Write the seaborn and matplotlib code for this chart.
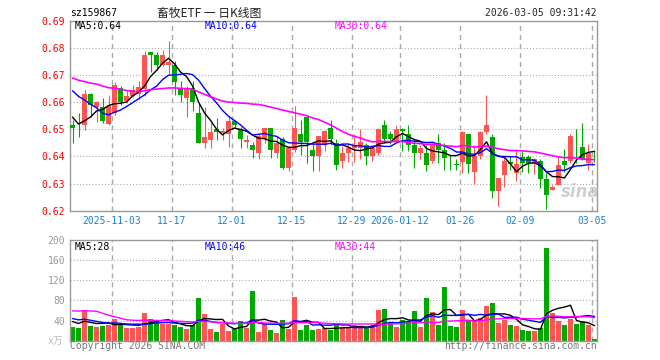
import numpy as np
import pandas as pd
import matplotlib
matplotlib.use("Agg")
import matplotlib.pyplot as plt
import seaborn as sns

# daily bars of sz159867, 2025-10-23 .. 2026-03-05 (88 sessions)
opens = [0.6514, 0.6513, 0.6514, 0.6631, 0.6582, 0.6582, 0.6520, 0.6559, 0.6653, 0.6603,
         0.6621, 0.6630, 0.6650, 0.6785, 0.6775, 0.6736, 0.6736, 0.6736, 0.6652, 0.6615,
         0.6652, 0.6559, 0.6451, 0.6460, 0.6500, 0.6488, 0.6481, 0.6531, 0.6501, 0.6452,
         0.6441, 0.6411, 0.6463, 0.6504, 0.6411, 0.6463, 0.6358, 0.6423, 0.6481, 0.6546,
         0.6422, 0.6401, 0.6442, 0.6504, 0.6451, 0.6383, 0.6411, 0.6432, 0.6432, 0.6441,
         0.6401, 0.6414, 0.6515, 0.6481, 0.6453, 0.6502, 0.6481, 0.6441, 0.6411, 0.6411,
         0.6383, 0.6451, 0.6423, 0.6384, 0.6373, 0.6380, 0.6482, 0.6343, 0.6402, 0.6491,
         0.6473, 0.6273, 0.6332, 0.6378, 0.6340, 0.6399, 0.6399, 0.6374, 0.6383, 0.6317,
         0.6278, 0.6296, 0.6383, 0.6383, 0.6432, 0.6436, 0.6374, 0.6392]
highs = [0.6535, 0.6560, 0.6646, 0.6633, 0.6605, 0.6615, 0.6626, 0.6674, 0.6658, 0.6645,
         0.6662, 0.6678, 0.6788, 0.6786, 0.6785, 0.6791, 0.6827, 0.6751, 0.6677, 0.6658,
         0.6677, 0.6596, 0.6581, 0.6522, 0.6541, 0.6505, 0.6547, 0.6534, 0.6510, 0.6479,
         0.6453, 0.6488, 0.6505, 0.6505, 0.6475, 0.6472, 0.6438, 0.6586, 0.6535, 0.6548,
         0.6444, 0.6477, 0.6496, 0.6533, 0.6463, 0.6438, 0.6444, 0.6481, 0.6502, 0.6451,
         0.6438, 0.6503, 0.6535, 0.6493, 0.6515, 0.6504, 0.6516, 0.6463, 0.6441, 0.6441,
         0.6451, 0.6482, 0.6451, 0.6404, 0.6392, 0.6492, 0.6483, 0.6442, 0.6492, 0.6626,
         0.6482, 0.6321, 0.6396, 0.6402, 0.6423, 0.6420, 0.6407, 0.6395, 0.6389, 0.6340,
         0.6296, 0.6401, 0.6426, 0.6481, 0.6502, 0.6522, 0.6444, 0.6420]
lows = [0.6448, 0.6472, 0.6498, 0.6547, 0.6528, 0.6522, 0.6514, 0.6553, 0.6590, 0.6596,
        0.6618, 0.6612, 0.6623, 0.6710, 0.6717, 0.6732, 0.6705, 0.6627, 0.6599, 0.6547,
        0.6568, 0.6448, 0.6430, 0.6430, 0.6460, 0.6462, 0.6436, 0.6504, 0.6430, 0.6430,
        0.6395, 0.6389, 0.6448, 0.6395, 0.6395, 0.6354, 0.6348, 0.6418, 0.6407, 0.6377,
        0.6348, 0.6348, 0.6420, 0.6444, 0.6349, 0.6356, 0.6379, 0.6379, 0.6389, 0.6368,
        0.6383, 0.6407, 0.6451, 0.6444, 0.6451, 0.6420, 0.6420, 0.6358, 0.6389, 0.6348,
        0.6377, 0.6377, 0.6350, 0.6350, 0.6350, 0.6338, 0.6338, 0.6300, 0.6392, 0.6482,
        0.6248, 0.6218, 0.6289, 0.6350, 0.6310, 0.6342, 0.6340, 0.6337, 0.6284, 0.6206,
        0.6275, 0.6293, 0.6342, 0.6377, 0.6377, 0.6386, 0.6349, 0.6380]
closes = [0.6505, 0.6511, 0.6631, 0.6589, 0.6601, 0.6532, 0.6584, 0.6664, 0.6599, 0.6623,
          0.6643, 0.6655, 0.6775, 0.6775, 0.6736, 0.6775, 0.6747, 0.6673, 0.6625, 0.6652,
          0.6602, 0.6451, 0.6470, 0.6489, 0.6491, 0.6495, 0.6531, 0.6516, 0.6463, 0.6460,
          0.6423, 0.6475, 0.6504, 0.6422, 0.6451, 0.6358, 0.6432, 0.6504, 0.6453, 0.6453,
          0.6401, 0.6475, 0.6494, 0.6463, 0.6370, 0.6411, 0.6432, 0.6441, 0.6453, 0.6401,
          0.6432, 0.6502, 0.6463, 0.6463, 0.6502, 0.6493, 0.6441, 0.6411, 0.6432, 0.6370,
          0.6447, 0.6423, 0.6393, 0.6382, 0.6370, 0.6491, 0.6371, 0.6402, 0.6491, 0.6515,
          0.6273, 0.6320, 0.6383, 0.6371, 0.6371, 0.6374, 0.6374, 0.6391, 0.6317, 0.6259,
          0.6288, 0.6370, 0.6370, 0.6475, 0.6430, 0.6389, 0.6411, 0.6389]
volumes = [28, 26, 61, 29, 27, 29, 31, 43, 32, 25,
           25, 28, 55, 44, 41, 34, 34, 31, 27, 23,
           32, 85, 53, 23, 17, 34, 19, 24, 39, 25,
           99, 17, 33, 21, 15, 41, 23, 87, 21, 31,
           21, 23, 25, 21, 34, 25, 25, 32, 25, 28,
           32, 61, 63, 36, 27, 41, 39, 59, 27, 85,
           57, 31, 107, 29, 27, 61, 39, 41, 45, 69,
           75, 36, 41, 31, 29, 21, 19, 19, 25, 184,
           55, 39, 31, 43, 33, 39, 31, 3]

# sessions before the window, only used to seed the moving averages
prior_closes = [0.676, 0.678, 0.675, 0.672, 0.674, 0.677, 0.673, 0.671, 0.675, 0.674,
                0.670, 0.667, 0.665, 0.668, 0.671, 0.669, 0.666, 0.668, 0.667, 0.669,
                0.672, 0.676, 0.675, 0.673, 0.6735, 0.664, 0.657, 0.652, 0.649]
prior_volumes = [40, 38, 45, 42, 150, 140, 142, 120, 117, 48,
                 44, 42, 46, 50, 47, 45, 44, 43, 48, 46,
                 52, 48, 50, 49, 51, 45, 38, 41, 38]

tick_days = [7, 17, 27, 37, 47, 55, 65, 75, 87]
tick_labels = ["2025-11-03", "11-17", "12-01", "12-15", "12-29",
               "2026-01-12", "01-26", "02-09", "03-05"]
price_ticks = [0.62, 0.63, 0.64, 0.65, 0.66, 0.67, 0.68, 0.69]
vol_ticks = [40, 80, 120, 160, 200]
price_ma_text = ["MA5:0.64", "MA10:0.64", "MA30:0.64"]
vol_ma_text = ["MA5:28", "MA10:46", "MA30:44"]

RED, GREEN = "#ff5454", "#00a800"
MA_COLORS = ["#000000", "#0000ff", "#ff00ff"]
GRID = "#aaaaaa"

sns.set_style("white")
plt.rcParams["font.family"] = ["DejaVu Sans Mono", "Noto Sans CJK SC"]

n = len(closes)
day = np.arange(n)
o, h, l, c = map(np.array, (opens, highs, lows, closes))
cols = np.where(c > o, RED, GREEN)
close_all = pd.Series(prior_closes + closes)
vol_all = pd.Series(prior_volumes + volumes, dtype=float)

W, H = 660, 360
fig = plt.figure(figsize=(6.6, 3.6), dpi=100)
ax1 = fig.add_axes([70 / W, 1 - 210.7 / H, 527 / W, 190 / H])
ax2 = fig.add_axes([70 / W, 1 - 340.7 / H, 527 / W, 100.7 / H])

for ax in (ax1, ax2):
    ax.set_xlim(-0.42, 87.42)
    for t in tick_days:
        ax.axvline(t - 0.42, color=GRID, lw=1, ls=(0, (3.6, 2.9)), zorder=0)
    for s in ax.spines.values():
        s.set_color("#999999")
        s.set_linewidth(1)
    ax.tick_params(length=0)

# price panel
for y in price_ticks[1:-1]:
    ax1.axhline(y, color=GRID, lw=0.75, ls=(0, (1, 2)), zorder=0)
ax1.vlines(day, l, h, colors=cols, lw=0.8, zorder=2)
ax1.bar(day, np.maximum(np.abs(c - o), 0.00015), bottom=np.minimum(o, c),
        width=0.83, color=cols, lw=0, zorder=3)
for w, col in zip((5, 10, 30), MA_COLORS):
    ma = close_all.rolling(w).mean().iloc[-n:].to_numpy()
    sns.lineplot(x=day, y=ma, ax=ax1, color=col, lw=1.0 if w < 30 else 1.2,
                 estimator=None, zorder=4)
ax1.set_ylim(0.62, 0.69)
ax1.set_yticks(price_ticks)
ax1.set_yticklabels([f"{v:.2f}" for v in price_ticks])
ax1.tick_params(axis="y", pad=3.6, labelcolor="#ff0000", labelsize=7)
ax1.set_xticks(np.array(tick_days) - 0.42)
ax1.set_xticklabels(tick_labels)
ax1.tick_params(axis="x", pad=3.5, labelcolor="#1a80d0", labelsize=7)
ax1.set_xlabel("")
ax1.set_ylabel("")

# volume panel
for y in vol_ticks[:-1]:
    ax2.axhline(y, color=GRID, lw=0.75, ls=(0, (1, 2)), zorder=0)
ax2.bar(day, volumes, width=0.83, color=cols, lw=0, zorder=2)
for w, col in zip((5, 10, 30), MA_COLORS):
    ma = vol_all.rolling(w).mean().iloc[-n:].to_numpy()
    sns.lineplot(x=day, y=ma, ax=ax2, color=col, lw=1.0, estimator=None, zorder=4)
ax2.set_ylim(0, 200)
ax2.set_yticks(vol_ticks)
ax2.tick_params(axis="y", pad=3.6, labelcolor="#999999", labelsize=7)
ax2.set_xticks([])
ax2.set_xlabel("")
ax2.set_ylabel("")

# moving-average captions
for txt, col, px in zip(price_ma_text, MA_COLORS, (75, 205, 335)):
    fig.text(px / W, 1 - 26 / H, txt, color=col, fontsize=7, va="center")
for txt, col, px in zip(vol_ma_text, MA_COLORS, (75, 205, 335)):
    fig.text(px / W, 1 - 246.5 / H, txt, color=col, fontsize=7, va="center")

# header / footer
fig.text(70 / W, 1 - 13 / H, "sz159867", fontsize=7, va="center", color="#000000")
fig.text(209 / W, 1 - 13 / H, "畜牧ETF 一 日K线图", fontsize=8.5, ha="center", va="center",
         family=["Noto Sans CJK SC", "DejaVu Sans"], color="#222222")
fig.text(597 / W, 1 - 13 / H, "2026-03-05 09:31:42", fontsize=7, ha="right", va="center")
fig.text(63 / W, 1 - 341 / H, "x万", fontsize=7, ha="right", va="center", color="#bbbbbb")
fig.text(70 / W, 1 - 346 / H, "Copyright 2026 SINA.COM", fontsize=7, va="center", color="#777777")
fig.text(597 / W, 1 - 346 / H, "http://finance.sina.com.cn", fontsize=7, ha="right",
         va="center", color="#777777")
fig.text(580 / W, 1 - 192 / H, "sina", fontsize=12, ha="center", va="center", color="#bbbbbb",
         alpha=0.7, fontweight="bold", fontstyle="italic", family="DejaVu Sans")

fig.savefig("out.png", dpi=100)
